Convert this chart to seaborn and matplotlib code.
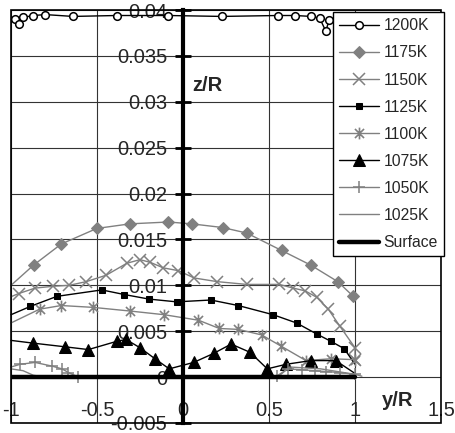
import matplotlib
matplotlib.use("Agg")
import matplotlib.pyplot as plt
import seaborn as sns
from matplotlib.path import Path
from matplotlib.patches import Rectangle

# === Data ===
x_1200 = [-0.995, -0.977, -0.951, -0.928, -0.87, -0.80, -0.64, -0.385, -0.085, 0.225, 0.553, 0.65, 0.747, 0.795, 0.83, 0.85, 0.9, 0.95, 0.99]
z_1200 = [0.0390, 0.0390, 0.0385, 0.0392, 0.0394, 0.0395, 0.0393, 0.0394, 0.0394, 0.0393, 0.0394, 0.0394, 0.0393, 0.0391, 0.0377, 0.0389, 0.0392, 0.0390, 0.0388]

x_1175 = [-1.0, -0.869, -0.708, -0.501, -0.308, -0.085, 0.05, 0.23, 0.37, 0.573, 0.743, 0.90, 0.99]
z_1175 = [0.0100, 0.0122, 0.0145, 0.0162, 0.0167, 0.0169, 0.0167, 0.0163, 0.0157, 0.0138, 0.0122, 0.0104, 0.0088]

x_1150 = [-0.995, -0.956, -0.86, -0.753, -0.662, -0.563, -0.447, -0.327, -0.25, -0.19, -0.114, -0.027, 0.065, 0.2, 0.37, 0.56, 0.64, 0.71, 0.777, 0.845, 0.91, 1.0, 1.0]
z_1150 = [0.0088, 0.0091, 0.0097, 0.0099, 0.0100, 0.0104, 0.0111, 0.0124, 0.0128, 0.0125, 0.0119, 0.0116, 0.0108, 0.0104, 0.0101, 0.0101, 0.0097, 0.0094, 0.0087, 0.0074, 0.0056, 0.0032, 0.0019]

x_1125 = [-1.0, -0.888, -0.733, -0.472, -0.342, -0.197, -0.037, 0.162, 0.321, 0.524, 0.66, 0.777, 0.86, 0.937, 1.0]
z_1125 = [0.0068, 0.0077, 0.0088, 0.0095, 0.0090, 0.0085, 0.0082, 0.0084, 0.0078, 0.0068, 0.0059, 0.0047, 0.0039, 0.0031, 0.0014]

x_1100 = [-1.0, -0.834, -0.708, -0.524, -0.308, -0.11, 0.09, 0.211, 0.321, 0.457, 0.568, 0.715, 0.86, 1.0]
z_1100 = [0.0059, 0.0074, 0.0078, 0.0076, 0.0072, 0.0068, 0.0062, 0.0053, 0.0052, 0.0046, 0.0034, 0.0018, 0.0020, 0.0019]

x_1075 = [-1.0, -0.87, -0.685, -0.55, -0.385, -0.331, -0.25, -0.163, -0.08, 0.062, 0.18, 0.28, 0.39, 0.49, 0.6, 0.744, 0.888, 1.0]
z_1075 = [0.0040, 0.0037, 0.0033, 0.0030, 0.0039, 0.0041, 0.0032, 0.0020, 0.0009, 0.0016, 0.0026, 0.0036, 0.0027, 0.0009, 0.0014, 0.0018, 0.0018, 0.0004]

x_1050 = [-1.0, -0.946, -0.86, -0.762, -0.704, -0.666, -0.608, 0.544, 0.61, 0.69, 0.766, 0.834, 0.911, 1.0]
z_1050 = [0.0011, 0.0014, 0.0016, 0.0012, 0.0009, 0.0005, 0.0000, 0.0001, 0.0009, 0.0008, 0.0007, 0.0006, 0.0005, 0.0003]

x_1025 = [-1.0, -0.93, -0.87, -0.80, 0.55, 0.62, 0.8, 1.0, 1.04]
z_1025 = [0.0009, 0.0007, 0.0002, 0.0, 0.0, 0.0011, 0.0009, 0.0003, 0.0001]

x_surface = [-1.0, 1.0]
z_surface = [0.0, 0.0]

x_ticks = [-1, -0.5, 0, 0.5, 1, 1.5]
x_ticklabels = ["-1", "-0.5", "0", "0.5", "1", "1.5"]
y_ticks = [-0.005, 0, 0.005, 0.01, 0.015, 0.02, 0.025, 0.03, 0.035, 0.04]
y_ticklabels = ["-0.005", "0", "0.005", "0.01", "0.015", "0.02", "0.025", "0.03", "0.035", "0.04"]

# === Style ===
sns.set_style("white")
plt.rcParams["font.family"] = ["Liberation Sans", "DejaVu Sans"]
plt.rcParams["axes.unicode_minus"] = False

GRAY = "#808080"
star = Path([(-1, -1), (1, 1), (-1, 1), (1, -1), (0, -1.3), (0, 1.3)],
            [Path.MOVETO, Path.LINETO] * 3)

fig = plt.figure(figsize=(4.56, 4.33), dpi=100)
ax = fig.add_axes([11 / 456, 10 / 433, 430 / 456, 413 / 433])

def series(x, z, label, color, marker=None, skip_ends=False, **kw):
    n = len(x)
    me = list(range(1, n - 1)) if skip_ends else list(range(1, n))
    sns.lineplot(x=x, y=z, ax=ax, label=label, color=color, marker=marker,
                 sort=False, estimator=None, linewidth=1.0, markevery=me,
                 clip_on=False, **kw)

series(x_1200, z_1200, "1200K", "black", "o", markersize=5.5,
       markerfacecolor="white", markeredgecolor="black", markeredgewidth=1.1)
series(x_1175, z_1175, "1175K", GRAY, "D", markersize=6.5,
       markerfacecolor=GRAY, markeredgecolor=GRAY)
series(x_1150, z_1150, "1150K", GRAY, "x", markersize=8.5, markeredgewidth=1.1,
       markeredgecolor=GRAY)
series(x_1125, z_1125, "1125K", "black", "s", skip_ends=True, markersize=5,
       markerfacecolor="black", markeredgecolor="black")
series(x_1100, z_1100, "1100K", GRAY, star, markersize=8.5, markeredgewidth=1.2,
       markeredgecolor=GRAY)
series(x_1075, z_1075, "1075K", "black", "^", skip_ends=True, markersize=8,
       markerfacecolor="black", markeredgecolor="black")
series(x_1050, z_1050, "1050K", GRAY, "+", markersize=9, markeredgewidth=1.1,
       markeredgecolor=GRAY)
sns.lineplot(x=x_1025, y=z_1025, ax=ax, label="1025K", color=GRAY,
             sort=False, estimator=None, linewidth=1.0)
sns.lineplot(x=x_surface, y=z_surface, ax=ax, label="Surface", color="black",
             sort=False, estimator=None, linewidth=3.2, zorder=3)

# === Axes ===
ax.set_xlim(-1, 1.5)
ax.set_ylim(-0.005, 0.04)
ax.set_xticks(x_ticks)
ax.set_xticklabels(x_ticklabels)
ax.set_yticks(y_ticks)
ax.set_yticklabels(y_ticklabels)
ax.set_xlabel("")
ax.set_ylabel("")

ax.grid(True, color="#333333", linewidth=0.8)
ax.set_axisbelow(True)

for s in ["top", "right", "bottom"]:
    ax.spines[s].set_visible(False)
ax.spines["left"].set_position(("data", 0))
ax.spines["left"].set_linewidth(3)
ax.spines["left"].set_color("black")
ax.spines["left"].set_zorder(4)

ax.tick_params(axis="y", direction="inout", length=11, width=2, color="black",
               labelsize=14.5, pad=6, left=True)
ax.tick_params(axis="x", length=0, labelsize=14.5, pad=-16)

ax.add_patch(Rectangle((0, 0), 1, 1, transform=ax.transAxes, fill=False,
                       edgecolor="black", linewidth=1.2, clip_on=False, zorder=4))

ax.text(0.056, 0.0318, "z/R", fontsize=14.5, fontweight="bold", ha="left", va="center")
ax.text(1.155, -0.0026, "y/R", fontsize=14.5, fontweight="bold", ha="left", va="center")

leg = ax.legend(loc="upper right", bbox_to_anchor=(1.007, 0.995), borderaxespad=0,
                fontsize=11.3, frameon=True, fancybox=False, framealpha=1,
                edgecolor="black", handlelength=2.5, handletextpad=0.3,
                labelspacing=0.77, borderpad=0.4)
leg.get_frame().set_linewidth(1.0)
leg.set_zorder(6)

fig.savefig("out.png", dpi=100)
